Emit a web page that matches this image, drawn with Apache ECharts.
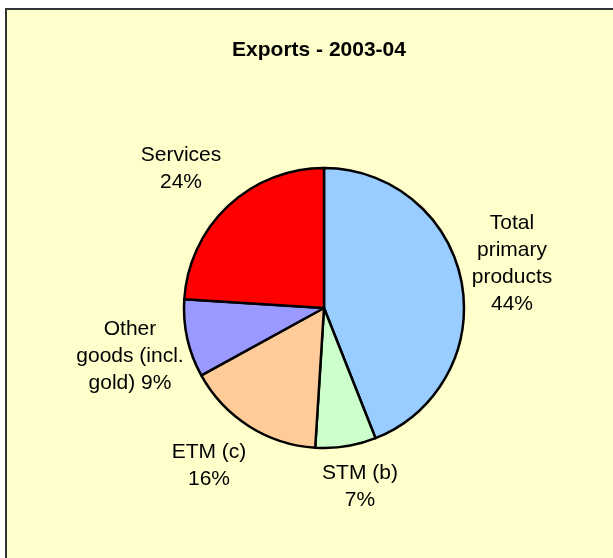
<!DOCTYPE html>
<html>
<head>
<meta charset="utf-8">
<script src="https://cdn.jsdelivr.net/npm/echarts@6/dist/echarts.min.js"></script>
<style>
html,body{margin:0;padding:0;background:#ffffff;}
#chart{width:613px;height:558px;}
</style>
</head>
<body>
<div id="chart"></div>
<script>
// ---- data ----
var categories = ['Total primary products', 'STM (b)', 'ETM (c)', 'Other goods (incl. gold)', 'Services'];
var labelLines = ['Total\nprimary\nproducts', 'STM (b)', 'ETM (c)', 'Other\ngoods (incl.\ngold)', 'Services'];
var percentSep = ['\n', '\n', '\n', ' ', '\n'];
var values = [44, 7, 16, 9, 24];
var colors = ['#99CCFF', '#CCFFCC', '#FFCC99', '#9999FF', '#FF0000'];
var titleText = 'Exports - 2003-04';

// ---- layout ----
var cx = 324, cy = 308, R = 140;
// label block centre offsets from the pie centre
var labelOffset = [[188, -44], [36, 179], [-115, 158], [-194, 48], [-143, -139]];

var chart = echarts.init(document.getElementById('chart'), null, {renderer: 'canvas'});
var font = '"Liberation Sans", Arial, sans-serif';
chart.setOption({
  backgroundColor: '#ffffff',
  animation: false,
  graphic: [{
    type: 'rect', z: -10, silent: true,
    shape: {x: 6, y: 9, width: 700, height: 700},
    style: {fill: '#FFFFCC', stroke: '#333333', lineWidth: 2}
  }],
  title: {
    text: titleText,
    left: 314, top: 35, textAlign: 'center',
    textStyle: {fontFamily: font, fontSize: 21, fontWeight: 'bold', color: '#000000'}
  },
  series: [{
    type: 'pie',
    center: [cx, cy],
    radius: [0, R],
    startAngle: 90,
    clockwise: true,
    data: categories.map(function (c, i) {
      return {name: c, value: values[i], itemStyle: {color: colors[i]}};
    }),
    itemStyle: {borderColor: '#000000', borderWidth: 2.5},
    label: {
      show: true,
      position: 'outside',
      fontFamily: font,
      fontSize: 21,
      lineHeight: 27,
      color: '#000000',
      align: 'center',
      formatter: function (p) {
        return labelLines[p.dataIndex] + percentSep[p.dataIndex] + p.value + '%';
      }
    },
    labelLine: {show: false},
    labelLayout: function (p) {
      var o = labelOffset[p.dataIndex];
      return {
        x: cx + o[0],
        y: cy + o[1],
        align: 'center',
        verticalAlign: 'middle'
      };
    },
    emphasis: {disabled: true}
  }]
});
</script>
</body>
</html>
